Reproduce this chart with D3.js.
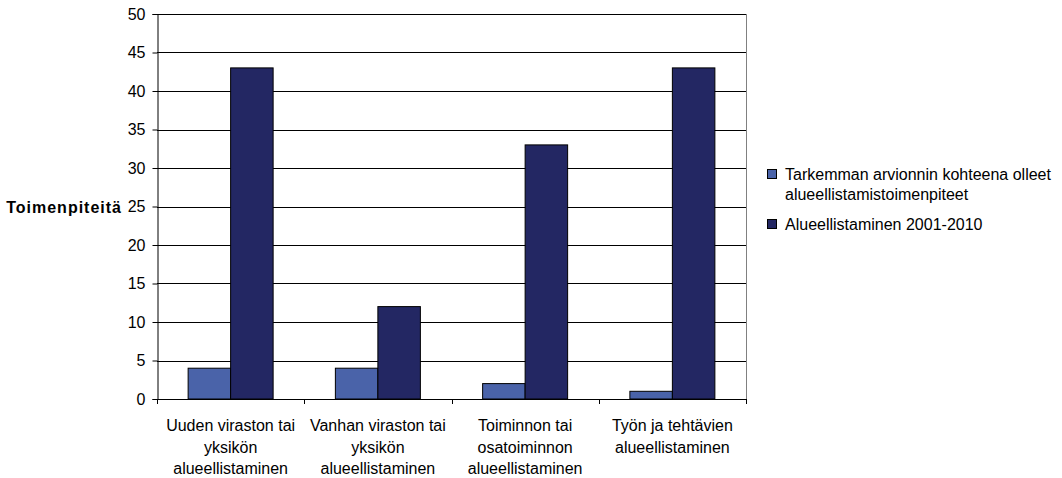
<!DOCTYPE html>
<html>
<head>
<meta charset="utf-8">
<script src="https://cdn.jsdelivr.net/npm/d3@7"></script>
<style>
  body { margin: 0; background: #fff; }
  text { font-family: "Liberation Sans", Arial, sans-serif; }
</style>
</head>
<body>
<svg id="chart" width="1062" height="478"></svg>
<script>
const categories = [
    ['Uuden viraston tai', 'yksikön', 'alueellistaminen'],
    ['Vanhan viraston tai', 'yksikön', 'alueellistaminen'],
    ['Toiminnon tai', 'osatoiminnon', 'alueellistaminen'],
    ['Työn ja tehtävien', 'alueellistaminen']
];
const seriesNames = [
    ['Tarkemman arvionnin kohteena olleet', 'alueellistamistoimenpiteet'],
    ['Alueellistaminen 2001-2010']
];
const evaluated = [4, 4, 2, 1];
const total = [43, 12, 33, 43];
const yTicks = [0, 5, 10, 15, 20, 25, 30, 35, 40, 45, 50];
const colors = ['#4a63a9', '#232763'];

const svg = d3.select('#chart');
const plotLeft = 157, plotRight = 746, plotTop = 14, plotBottom = 399;

const x = d3.scaleBand().domain(d3.range(categories.length)).range([plotLeft, plotRight]);
const y = d3.scaleLinear().domain([0, 50]).range([plotBottom, plotTop]);
const barW = 42.5;

// gridlines
svg.append('g')
    .selectAll('line')
    .data(yTicks)
    .join('line')
    .attr('x1', plotLeft).attr('x2', plotRight)
    .attr('y1', d => Math.round(y(d)) + 0.5).attr('y2', d => Math.round(y(d)) + 0.5)
    .attr('stroke', '#000').attr('stroke-width', 1);

// right border
svg.append('line')
    .attr('x1', plotRight + 0.5).attr('x2', plotRight + 0.5)
    .attr('y1', plotTop).attr('y2', plotBottom)
    .attr('stroke', '#808080');

// bars
const data = [evaluated, total];
data.forEach((series, si) => {
    svg.append('g')
        .selectAll('rect')
        .data(series)
        .join('rect')
        .attr('x', (d, i) => x(i) + x.bandwidth() / 2 - barW + si * barW)
        .attr('y', d => y(d))
        .attr('width', barW)
        .attr('height', d => plotBottom - y(d))
        .attr('fill', colors[si])
        .attr('stroke', '#000')
        .attr('stroke-width', 1);
});

// y axis
const yAxis = svg.append('g')
    .attr('transform', `translate(${plotLeft + 0.5},0)`)
    .call(d3.axisLeft(y).tickValues(yTicks).tickSize(5).tickPadding(7));
yAxis.select('.domain').attr('stroke', '#000');
yAxis.selectAll('text').attr('font-size', 16).attr('fill', '#000')
    .attr('font-family', '"Liberation Sans", Arial, sans-serif');

// x axis
const xb = svg.append('g');
xb.append('line')
    .attr('x1', plotLeft).attr('x2', plotRight)
    .attr('y1', plotBottom + 0.5).attr('y2', plotBottom + 0.5)
    .attr('stroke', '#000');
xb.selectAll('line.tick')
    .data(d3.range(categories.length + 1))
    .join('line')
    .attr('class', 'tick')
    .attr('x1', i => Math.round(plotLeft + i * x.bandwidth()) + 0.5)
    .attr('x2', i => Math.round(plotLeft + i * x.bandwidth()) + 0.5)
    .attr('y1', plotBottom).attr('y2', plotBottom + 5)
    .attr('stroke', '#000');

const labels = xb.selectAll('text')
    .data(categories)
    .join('text')
    .attr('text-anchor', 'middle')
    .attr('font-size', 16)
    .attr('fill', '#000')
    .attr('transform', (d, i) => `translate(${x(i) + x.bandwidth() / 2},431)`);
labels.selectAll('tspan')
    .data(d => d)
    .join('tspan')
    .attr('x', 0)
    .attr('y', (d, i) => i * 21.5)
    .text(d => d);

// y label
svg.append('text')
    .attr('x', 122).attr('y', 213)
    .attr('text-anchor', 'end')
    .attr('font-size', 16)
    .attr('font-weight', 'bold')
    .attr('letter-spacing', 1)
    .text('Toimenpiteitä');

// legend
const legendY = [174, 224];
seriesNames.forEach((lines, i) => {
    const g = svg.append('g').attr('transform', `translate(767,${legendY[i]})`);
    g.append('rect')
        .attr('x', 0.5).attr('y', -4.5)
        .attr('width', 9).attr('height', 9)
        .attr('fill', colors[i]).attr('stroke', '#000');
    const t = g.append('text').attr('font-size', 16).attr('fill', '#000');
    t.selectAll('tspan')
        .data(lines)
        .join('tspan')
        .attr('x', 18)
        .attr('y', (d, j) => 6 + j * 20)
        .text(d => d);
});
</script>
</body>
</html>
